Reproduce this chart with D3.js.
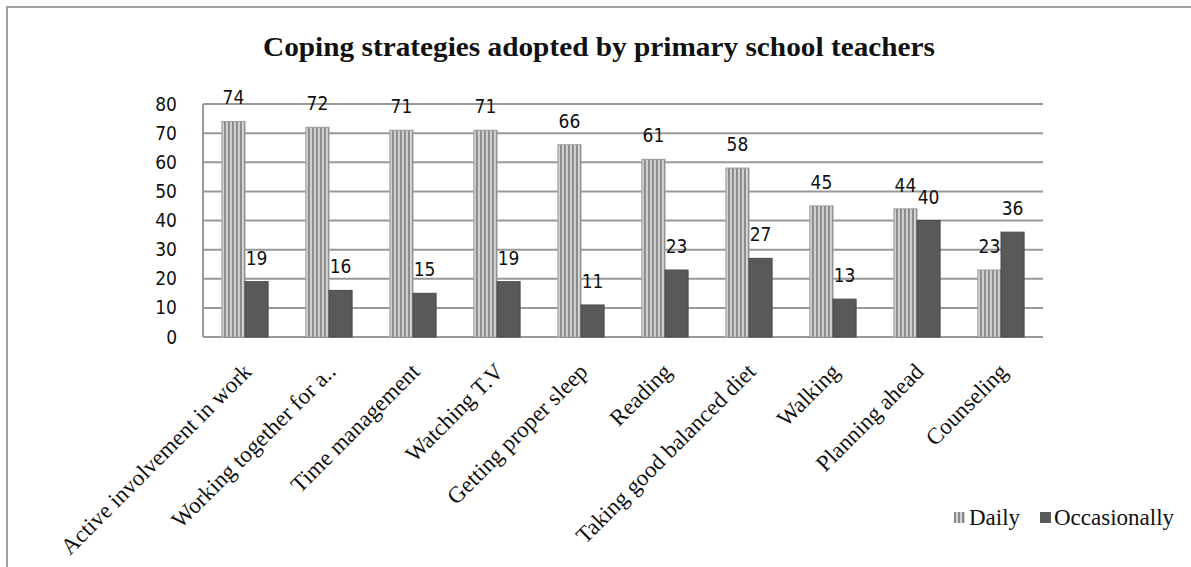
<!DOCTYPE html>
<html><head><meta charset="utf-8">
<script src="https://cdn.jsdelivr.net/npm/d3@7"></script>
<style>body{margin:0;background:#fff}svg{display:block}</style>
</head><body>
<script>
const categories = ["Active involvement  in work","Working together for a..","Time management","Watching T.V","Getting proper sleep","Reading","Taking good balanced  diet","Walking","Planning ahead","Counseling"];
const daily = [74,72,71,71,66,61,58,45,44,23];
const occasionally = [19,16,15,19,11,23,27,13,40,36];
const seriesNames = ["Daily","Occasionally"];
const yTicks = [0,10,20,30,40,50,60,70,80];
const title = "Coping strategies adopted by primary school teachers";

(function(){
const W=1191,H=567;
const svg=d3.select("body").append("svg").attr("width",W).attr("height",H);
const defs=svg.append("defs");
const pat=defs.append("pattern").attr("id","stripes").attr("patternUnits","userSpaceOnUse").attr("width",4).attr("height",4);
pat.append("rect").attr("x",0).attr("y",0).attr("width",4).attr("height",4).attr("fill","#d4d4d4");
pat.append("rect").attr("x",2).attr("y",0).attr("width",2).attr("height",4).attr("fill","#8a8a8a");

svg.append("path").attr("d","M7,567 V7 H1191").attr("fill","none").attr("stroke","#a0a0a0").attr("stroke-width",2);

const pL=203,pR=1043,pT=104,pB=337;
const x0=d3.scaleBand().domain(categories).range([pL,pR]).paddingInner(0.45).paddingOuter(0.225);
const x1=d3.scaleBand().domain(seriesNames).range([0,x0.bandwidth()]);
const y=d3.scaleLinear().domain([0,80]).range([pB,pT]);

svg.append("g").selectAll("line").data(yTicks).join("line")
  .attr("x1",pL).attr("x2",pR).attr("y1",d=>y(d)).attr("y2",d=>y(d))
  .attr("stroke","#999").attr("stroke-width",2);
svg.append("line").attr("x1",pL).attr("x2",pL).attr("y1",pT).attr("y2",pB).attr("stroke","#999").attr("stroke-width",2);

const sans="'DejaVu Sans Condensed','DejaVu Sans',sans-serif";
const serif="'Liberation Serif','Times New Roman',serif";

const yAxis=d3.axisLeft(y).tickValues(yTicks).tickSize(0).tickPadding(26);
const ga=svg.append("g").attr("transform",`translate(${pL},0)`).call(yAxis);
ga.select(".domain").remove();
ga.selectAll("text").attr("font-family",sans).attr("font-size",19).attr("fill","#111");

const data=categories.map((c,i)=>({cat:c,vals:[{s:"Daily",v:daily[i]},{s:"Occasionally",v:occasionally[i]}]}));
const groups=svg.append("g").selectAll("g").data(data).join("g").attr("transform",d=>`translate(${x0(d.cat)},0)`);
groups.selectAll("rect").data(d=>d.vals).join("rect")
  .attr("x",d=>x1(d.s)).attr("width",x1.bandwidth())
  .attr("y",d=>y(d.v)).attr("height",d=>y(0)-y(d.v))
  .attr("fill",d=>d.s==="Daily"?"url(#stripes)":"#595959")
  .attr("stroke",d=>d.s==="Daily"?"#9a9a9a":"#4a4a4a").attr("stroke-width",1);
groups.selectAll("text").data(d=>d.vals).join("text")
  .attr("x",d=>x1(d.s)+x1.bandwidth()/2).attr("y",d=>y(d.v)-17)
  .attr("text-anchor","middle")
  .attr("font-family",sans).attr("font-size",19).attr("fill","#111")
  .text(d=>d.v);

svg.append("g").selectAll("text").data(categories).join("text")
  .attr("transform",d=>`translate(${x0(d)+x0.bandwidth()/2+8},${373}) rotate(-45)`)
  .attr("text-anchor","end")
  .attr("font-family",serif).attr("font-size",23).attr("fill","#111")
  .text(d=>d);

svg.append("text").attr("x",263).attr("y",56).attr("textLength",672).attr("lengthAdjust","spacingAndGlyphs")
  .attr("font-family",serif).attr("font-weight","bold").attr("font-size",27).attr("fill","#111")
  .text(title);

const leg=svg.append("g");
const legItems=[{s:"Daily",x:954,fill:"url(#stripes)",tx:969},{s:"Occasionally",x:1040,fill:"#595959",tx:1054}];
leg.selectAll("rect").data(legItems).join("rect").attr("x",d=>d.x).attr("y",512).attr("width",11).attr("height",11).attr("fill",d=>d.fill);
leg.selectAll("text").data(legItems).join("text").attr("x",d=>d.tx).attr("y",525)
  .attr("font-family",serif).attr("font-size",23).attr("fill","#111").text(d=>d.s);
})();
</script>
</body></html>
